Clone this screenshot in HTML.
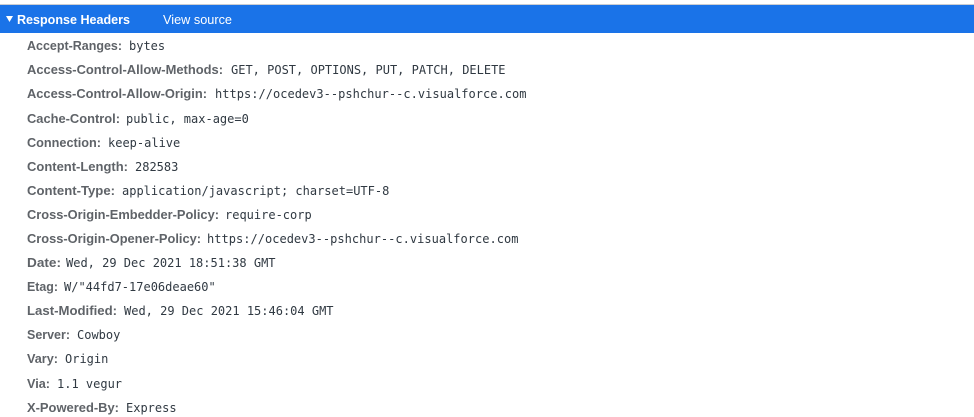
<!DOCTYPE html>
<html>
<head>
<meta charset="utf-8">
<style>
html,body{margin:0;padding:0;background:#fff;width:974px;height:417px;overflow:hidden}
svg{display:block}
.k{font:bold 13px "Liberation Sans",sans-serif;fill:#5f6368}
.v{font:12px "DejaVu Sans Mono","Liberation Mono",monospace;fill:#303942}
</style>
</head>
<body>
<svg width="974" height="417" viewBox="0 0 974 417" xmlns="http://www.w3.org/2000/svg">
<rect width="974" height="417" fill="#fff"/>
<rect x="0" y="4" width="974" height="1" fill="#cbcdd1"/>
<rect x="0" y="5" width="974" height="28" fill="#1a73e8"/>
<polygon points="6,16 13,16 9.5,22" fill="#fff"/>
<text x="17" y="24" font-family="Liberation Sans, sans-serif" font-weight="bold" font-size="13" fill="#fff" textLength="113" lengthAdjust="spacingAndGlyphs">Response Headers</text>
<text x="163" y="24" font-family="Liberation Sans, sans-serif" font-size="13" fill="#fff" textLength="69" lengthAdjust="spacingAndGlyphs">View source</text>

<text class="k" x="27" y="50" textLength="95" lengthAdjust="spacingAndGlyphs">Accept-Ranges:</text><text class="v" x="129" y="50">bytes</text>
<text class="k" x="27" y="74" textLength="196" lengthAdjust="spacingAndGlyphs">Access-Control-Allow-Methods:</text><text class="v" x="231" y="74">GET, POST, OPTIONS, PUT, PATCH, DELETE</text>
<text class="k" x="27" y="98" textLength="180" lengthAdjust="spacingAndGlyphs">Access-Control-Allow-Origin:</text><text class="v" x="215" y="98" textLength="311.5">https://ocedev3--pshchur--c.visualforce.com</text>
<text class="k" x="27" y="123" textLength="93" lengthAdjust="spacingAndGlyphs">Cache-Control:</text><text class="v" x="126" y="123">public, max-age=0</text>
<text class="k" x="27" y="147" textLength="74" lengthAdjust="spacingAndGlyphs">Connection:</text><text class="v" x="108" y="147">keep-alive</text>
<text class="k" x="27" y="171" textLength="101" lengthAdjust="spacingAndGlyphs">Content-Length:</text><text class="v" x="135" y="171">282583</text>
<text class="k" x="27" y="195" textLength="88" lengthAdjust="spacingAndGlyphs">Content-Type:</text><text class="v" x="122" y="195">application/javascript; charset=UTF-8</text>
<text class="k" x="27" y="219" textLength="192" lengthAdjust="spacingAndGlyphs">Cross-Origin-Embedder-Policy:</text><text class="v" x="225" y="219">require-corp</text>
<text class="k" x="27" y="243" textLength="174" lengthAdjust="spacingAndGlyphs">Cross-Origin-Opener-Policy:</text><text class="v" x="207" y="243" textLength="311.5">https://ocedev3--pshchur--c.visualforce.com</text>
<text class="k" x="27" y="267" textLength="34" lengthAdjust="spacingAndGlyphs">Date:</text><text class="v" x="66" y="267">Wed, 29 Dec 2021 18:51:38 GMT</text>
<text class="k" x="27" y="291" textLength="31" lengthAdjust="spacingAndGlyphs">Etag:</text><text class="v" x="64" y="291">W/"44fd7-17e06deae60"</text>
<text class="k" x="27" y="315" textLength="90" lengthAdjust="spacingAndGlyphs">Last-Modified:</text><text class="v" x="124" y="315">Wed, 29 Dec 2021 15:46:04 GMT</text>
<text class="k" x="27" y="339" textLength="43" lengthAdjust="spacingAndGlyphs">Server:</text><text class="v" x="77" y="339">Cowboy</text>
<text class="k" x="27" y="363" textLength="31" lengthAdjust="spacingAndGlyphs">Vary:</text><text class="v" x="65" y="363">Origin</text>
<text class="k" x="27" y="388" textLength="23" lengthAdjust="spacingAndGlyphs">Via:</text><text class="v" x="57" y="388">1.1 vegur</text>
<text class="k" x="27" y="412" textLength="92" lengthAdjust="spacingAndGlyphs">X-Powered-By:</text><text class="v" x="126" y="412">Express</text>
</svg>
</body>
</html>
